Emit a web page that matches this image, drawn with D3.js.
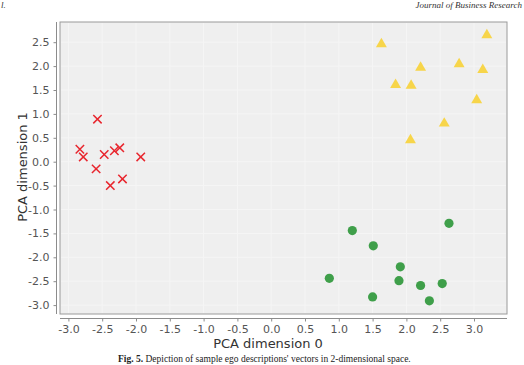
<!DOCTYPE html>
<html>
<head>
<meta charset="utf-8">
<script src="https://cdn.jsdelivr.net/npm/d3@7"></script>
<style>
  html, body { margin: 0; padding: 0; background: #fff; }
  svg { display: block; }
</style>
</head>
<body>
<svg id="chart"></svg>
<script>
// cluster points, [dim0, dim1]
const crosses = [
  [-2.83, 0.26], [-2.78, 0.10], [-2.57, 0.89], [-2.47, 0.15], [-2.32, 0.23],
  [-2.24, 0.29], [-1.93, 0.10], [-2.59, -0.15], [-2.38, -0.50], [-2.20, -0.36]
];
const triangles = [
  [3.19, 2.65], [1.63, 2.46], [2.21, 1.97], [2.78, 2.04], [3.13, 1.92],
  [1.84, 1.61], [2.07, 1.59], [3.04, 1.29], [2.56, 0.80], [2.06, 0.45]
];
const circles = [
  [2.63, -1.29], [1.20, -1.44], [1.51, -1.76], [1.91, -2.20], [0.86, -2.44],
  [1.89, -2.49], [2.21, -2.59], [2.53, -2.55], [1.50, -2.83], [2.34, -2.91]
];
const xTicks = [-3.0, -2.5, -2.0, -1.5, -1.0, -0.5, 0.0, 0.5, 1.0, 1.5, 2.0, 2.5, 3.0];
const yTicks = [2.5, 2.0, 1.5, 1.0, 0.5, 0.0, -0.5, -1.0, -1.5, -2.0, -2.5, -3.0];

const width = 524;
const height = 365;
const box = { left: 60, right: 507, top: 22, bottom: 314 };

const svg = d3.select('#chart')
    .attr('width', width)
    .attr('height', height)
    .style('font-family', '"DejaVu Sans", sans-serif');

const x = d3.scaleLinear()
    .domain([-3.0, 3.0])
    .range([68.4, 474]);

const y = d3.scaleLinear()
    .domain([-3.0, 2.5])
    .range([305.1, 42.2]);

// plain hyphen minus, as in the figure
const fmt = d => d.toFixed(1);

// page furniture (header / caption of the paper)
svg.append('text')
    .attr('x', 1).attr('y', 8)
    .attr('font-family', '"Liberation Serif", serif')
    .attr('font-size', 9).attr('font-style', 'italic').attr('fill', '#333')
    .text('l.');
svg.append('text')
    .attr('x', 522).attr('y', 8)
    .attr('text-anchor', 'end')
    .attr('font-family', '"Liberation Serif", serif')
    .attr('font-size', 9).attr('font-style', 'italic').attr('fill', '#333')
    .text('Journal of Business Research');

// plot background + frame
svg.append('rect')
    .attr('x', box.left).attr('y', box.top)
    .attr('width', box.right - box.left).attr('height', box.bottom - box.top)
    .attr('fill', '#efefef')
    .attr('stroke', '#9a9a9a')
    .attr('stroke-width', 1);

// very faint grid
const grid = svg.append('g').attr('stroke', '#f5f5f5').attr('stroke-width', 1);
grid.selectAll('line.v').data(xTicks).join('line')
    .attr('x1', d => x(d)).attr('x2', d => x(d))
    .attr('y1', box.top + 1).attr('y2', box.bottom - 1);
grid.selectAll('line.h').data(yTicks).join('line')
    .attr('y1', d => y(d)).attr('y2', d => y(d))
    .attr('x1', box.left + 1).attr('x2', box.right - 1);

// axes
svg.append('g')
    .attr('transform', 'translate(0,318.5)')
    .call(d3.axisBottom(x).tickValues(xTicks).tickFormat(fmt)
        .tickSize(3).tickPadding(4).tickSizeOuter(0))
    .call(g => g.select('.domain').attr('stroke', '#8c8c8c').attr('d', `M${box.left},0H${box.right}`))
    .call(g => g.selectAll('.tick line').attr('stroke', '#8c8c8c'))
    .call(g => g.selectAll('.tick text').attr('fill', '#555').attr('font-size', 11)
        .attr('font-family', '"DejaVu Sans", sans-serif'));

svg.append('g')
    .attr('transform', 'translate(56.5,0)')
    .call(d3.axisLeft(y).tickValues(yTicks).tickFormat(fmt)
        .tickSize(3).tickPadding(4).tickSizeOuter(0))
    .call(g => g.select('.domain').attr('stroke', '#8c8c8c').attr('d', `M0,${box.top}V${box.bottom}`))
    .call(g => g.selectAll('.tick line').attr('stroke', '#8c8c8c'))
    .call(g => g.selectAll('.tick text').attr('fill', '#555').attr('font-size', 11)
        .attr('font-family', '"DejaVu Sans", sans-serif'));

// axis titles
svg.append('text')
    .attr('x', 268).attr('y', 348)
    .attr('text-anchor', 'middle')
    .attr('font-size', 13).attr('fill', '#333')
    .text('PCA dimension 0');

svg.append('text')
    .attr('transform', 'translate(27,167) rotate(-90)')
    .attr('text-anchor', 'middle')
    .attr('font-size', 13).attr('fill', '#333')
    .text('PCA dimension 1');

// caption
svg.append('text')
    .attr('x', 118).attr('y', 362)
    .attr('font-family', '"Liberation Serif", serif')
    .attr('font-size', 9.5).attr('fill', '#222')
    .call(t => t.append('tspan').attr('font-weight', 'bold').text('Fig. 5.'))
    .call(t => t.append('tspan').text(" Depiction of sample ego descriptions' vectors in 2-dimensional space."));

// markers
svg.append('g')
    .selectAll('circle')
    .data(circles)
    .join('circle')
    .attr('cx', d => x(d[0]))
    .attr('cy', d => y(d[1]))
    .attr('r', 4.6)
    .attr('fill', '#3f9f4a');

const tri = d3.symbol().type(d3.symbolTriangle).size(52);
svg.append('g')
    .selectAll('path')
    .data(triangles)
    .join('path')
    .attr('transform', d => `translate(${x(d[0])},${y(d[1])})`)
    .attr('d', tri)
    .attr('fill', '#f7d54a');

const s = 4.2;
svg.append('g')
    .attr('stroke', '#e8262e')
    .attr('stroke-width', 1.5)
    .selectAll('path')
    .data(crosses)
    .join('path')
    .attr('d', d => {
        const cx = x(d[0]), cy = y(d[1]);
        return `M${cx - s},${cy - s}L${cx + s},${cy + s}M${cx - s},${cy + s}L${cx + s},${cy - s}`;
    });
</script>
</body>
</html>
